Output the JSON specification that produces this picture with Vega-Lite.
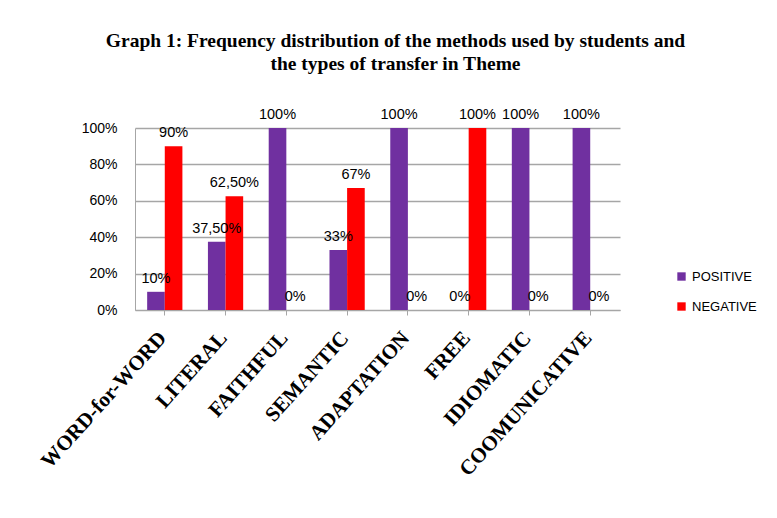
{
  "$schema": "https://vega.github.io/schema/vega-lite/v6.json",
  "autosize": {"type": "none"},
  "width": 485,
  "height": 182,
  "padding": {"left": 135, "top": 128, "right": 157, "bottom": 208},
  "background": "white",
  "title": {
    "text": ["Graph 1: Frequency distribution of the methods used by students and", "the types of transfer in Theme"],
    "font": "Liberation Serif",
    "fontSize": 19.5,
    "fontWeight": "bold",
    "color": "#000000",
    "anchor": "middle",
    "dx": 18,
    "offset": 33,
    "lineHeight": 23
  },
  "data": {
    "values": [
      {"method": "WORD-for-WORD", "type": "POSITIVE", "value": 10, "label": "10%"},
      {"method": "WORD-for-WORD", "type": "NEGATIVE", "value": 90, "label": "90%"},
      {"method": "LITERAL", "type": "POSITIVE", "value": 37.5, "label": "37,50%"},
      {"method": "LITERAL", "type": "NEGATIVE", "value": 62.5, "label": "62,50%"},
      {"method": "FAITHFUL", "type": "POSITIVE", "value": 100, "label": "100%"},
      {"method": "FAITHFUL", "type": "NEGATIVE", "value": 0, "label": "0%"},
      {"method": "SEMANTIC", "type": "POSITIVE", "value": 33, "label": "33%"},
      {"method": "SEMANTIC", "type": "NEGATIVE", "value": 67, "label": "67%"},
      {"method": "ADAPTATION", "type": "POSITIVE", "value": 100, "label": "100%"},
      {"method": "ADAPTATION", "type": "NEGATIVE", "value": 0, "label": "0%"},
      {"method": "FREE", "type": "POSITIVE", "value": 0, "label": "0%"},
      {"method": "FREE", "type": "NEGATIVE", "value": 100, "label": "100%"},
      {"method": "IDIOMATIC", "type": "POSITIVE", "value": 100, "label": "100%"},
      {"method": "IDIOMATIC", "type": "NEGATIVE", "value": 0, "label": "0%"},
      {"method": "COOMUNICATIVE", "type": "POSITIVE", "value": 100, "label": "100%"},
      {"method": "COOMUNICATIVE", "type": "NEGATIVE", "value": 0, "label": "0%"}
    ]
  },
  "encoding": {
    "x": {
      "field": "method",
      "type": "nominal",
      "sort": null,
      "scale": {"paddingInner": 0.42, "paddingOuter": 0.2},
      "axis": {
        "title": null,
        "labelAngle": -48,
        "labelAlign": "right",
        "labelBaseline": "top",
        "labelFont": "Liberation Serif",
        "labelFontWeight": "bold",
        "labelFontSize": 21,
        "labelColor": "#000000",
        "labelPadding": 12,
        "labelOffset": -10,
        "labelLimit": 0,
        "labelBound": false,
        "labelOverlap": false,
        "tickColor": "#a6a6a6",
        "tickSize": 5,
        "domainColor": "#a6a6a6",
        "grid": false
      }
    },
    "xOffset": {"field": "type", "type": "nominal", "sort": ["POSITIVE", "NEGATIVE"], "scale": {"paddingInner": 0}},
    "y": {
      "field": "value",
      "type": "quantitative",
      "scale": {"domain": [0, 100]},
      "axis": {
        "title": null,
        "values": [0, 20, 40, 60, 80, 100],
        "labelExpr": "datum.value + '%'",
        "labelFont": "Liberation Sans",
        "labelFontSize": 14,
        "labelColor": "#000000",
        "labelPadding": 18,
        "ticks": false,
        "domainColor": "#a6a6a6",
        "gridColor": "#a6a6a6",
        "gridWidth": 1.3
      }
    }
  },
  "layer": [
    {
      "mark": {"type": "bar", "stroke": null},
      "encoding": {
        "color": {
          "field": "type",
          "type": "nominal",
          "sort": ["POSITIVE", "NEGATIVE"],
          "scale": {"domain": ["POSITIVE", "NEGATIVE"], "range": ["#7030A0", "#FF0000"]},
          "legend": {
            "title": null,
            "orient": "none",
            "legendX": 540,
            "legendY": 142,
            "symbolType": "square",
            "symbolSize": 70,
            "labelFont": "Liberation Sans",
            "labelFontSize": 13,
            "labelColor": "#000000",
            "rowPadding": 16
          }
        }
      }
    },
    {
      "mark": {"type": "text", "baseline": "bottom", "dy": -6, "font": "Liberation Sans", "fontSize": 14.5, "color": "#000000"},
      "encoding": {
        "text": {"field": "label", "type": "nominal"}
      }
    }
  ],
  "config": {
    "view": {"stroke": null}
  }
}
